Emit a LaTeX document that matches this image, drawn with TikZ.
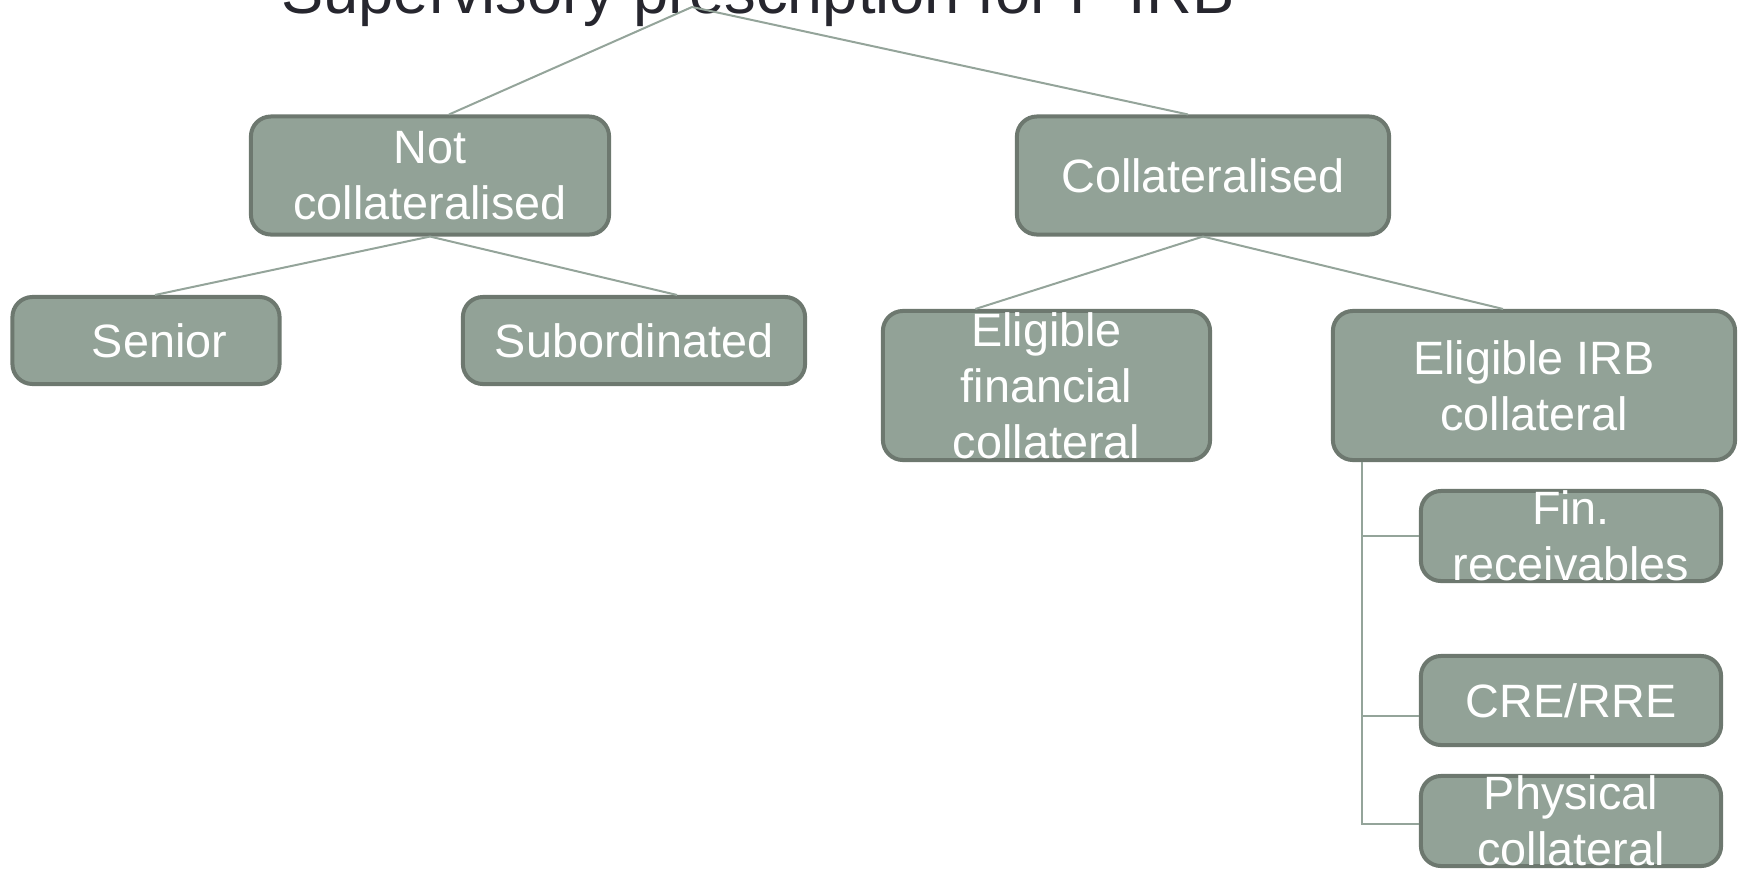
\documentclass[tikz,border=0pt]{standalone}
\usepackage{tikz}
\usepackage{fontspec}
\setmainfont{Liberation Sans}

\definecolor{boxfill}{RGB}{146,162,151}
\definecolor{boxline}{RGB}{109,120,111}
\definecolor{linkline}{RGB}{148,164,154}
\definecolor{titletext}{RGB}{38,38,46}

\tikzset{
  catbox/.style={draw=boxline, fill=boxfill, line width=0.4mm, rounded corners=2mm,
    text=white, align=center, inner xsep=0pt, inner ysep=-1cm,
    font=\fontsize{13.3pt}{15.9pt}\selectfont},
  link/.style={draw=linkline, line width=0.2mm}
}

\begin{document}
\begin{tikzpicture}[x=0.01cm, y=-0.01cm]
            \useasboundingbox (0,0) rectangle (1744,872);

            % Title
            \node[anchor=base, inner sep=0pt, text=titletext, font=\fontsize{18pt}{22pt}\selectfont] (title) at (758,13) {Supervisory prescription for F-IRB};
            \coordinate (top) at (692,7);

            % First stage nodes
            \node[catbox, minimum width=3.58cm, minimum height=1.18cm] (notcoll) at (430,175.5) {Not\\collateralised};
            \node[catbox, minimum width=3.72cm, minimum height=1.18cm] (coll) at (1203,175.5) {Collateralised};
            \draw[link] (top) -- ([xshift=1.9mm]notcoll.north);
            \draw[link] (top) -- ([xshift=-1.5mm]coll.north);

            % Second stage nodes
            \node[catbox, minimum width=2.67cm, minimum height=0.87cm] (senior) at (146,340.5) {\hspace{2.7mm}Senior};
            \node[catbox, minimum width=3.42cm, minimum height=0.87cm] (subord) at (634,340.5) {Subordinated};
            \draw[link] (notcoll.south) -- ([xshift=0.9mm]senior.north);
            \draw[link] (notcoll.south) -- ([xshift=4.3mm]subord.north);

            \node[catbox, minimum width=3.27cm, minimum height=1.49cm] (efc) at (1046.5,385.5) {Eligible\\financial\\collateral};
            \node[catbox, minimum width=4.02cm, minimum height=1.49cm] (eirb) at (1534,385.5) {Eligible IRB\\collateral};
            \draw[link] (coll.south) -- ([xshift=-7.1mm]efc.north);
            \draw[link] (coll.south) -- ([xshift=-3.1mm]eirb.north);

            % Third stage nodes
            \node[catbox, minimum width=3.00cm, minimum height=0.90cm] (finrec) at (1571,536) {Fin.\\receivables};
            \node[catbox, minimum width=3.00cm, minimum height=0.89cm] (crerre) at (1571,700.5) {CRE/RRE};
            \node[catbox, minimum width=3.00cm, minimum height=0.90cm] (phys) at (1571,821) {Physical\\collateral};

            \coordinate (trunk) at ([xshift=3.1mm]eirb.south west);
            \coordinate (crebranch) at ([yshift=-1.55mm]crerre.west);
            \coordinate (physbranch) at ([yshift=-0.3mm]phys.west);
            \draw[link] (trunk) |- (physbranch);
            \draw[link] (trunk |- finrec.west) -- (finrec.west);
            \draw[link] (trunk |- crebranch) -- (crebranch);
        \end{tikzpicture}
\end{document}
